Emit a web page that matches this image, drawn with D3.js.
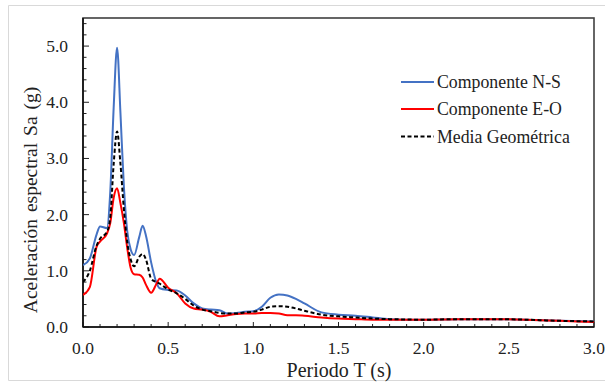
<!DOCTYPE html>
<html>
<head>
<meta charset="utf-8">
<script src="https://cdn.jsdelivr.net/npm/d3@7"></script>
<style>
  html, body { margin: 0; padding: 0; background: #fff; }
  svg { display: block; }
  svg text { font-family: "Liberation Serif", "Times New Roman", serif; fill: #222; }
</style>
</head>
<body>
<svg id="chart" width="605" height="383"></svg>
<script>
// ---- data ----
const periods = [0, 0.04, 0.08, 0.1, 0.14, 0.16, 0.18, 0.2, 0.22, 0.24, 0.26, 0.28, 0.3, 0.33, 0.35, 0.37, 0.4, 0.43, 0.45, 0.5, 0.55, 0.6, 0.65, 0.7, 0.75, 0.8, 0.85, 0.9, 0.95, 1.0, 1.05, 1.1, 1.15, 1.2, 1.25, 1.3, 1.4, 1.5, 1.6, 1.7, 1.8, 2.0, 2.2, 2.4, 2.6, 2.8, 3.0];
const saNS = [1.10, 1.22, 1.65, 1.79, 1.76, 2.4, 3.9, 4.97, 3.8, 2.5, 1.7, 1.38, 1.28, 1.6, 1.80, 1.62, 1.15, 0.80, 0.69, 0.66, 0.65, 0.56, 0.42, 0.33, 0.31, 0.30, 0.24, 0.25, 0.27, 0.28, 0.36, 0.52, 0.58, 0.56, 0.50, 0.42, 0.26, 0.22, 0.20, 0.17, 0.14, 0.13, 0.14, 0.14, 0.13, 0.11, 0.10];
const saEO = [0.57, 0.71, 1.43, 1.52, 1.66, 1.85, 2.3, 2.47, 2.2, 1.85, 1.4, 1.05, 0.94, 0.93, 0.88, 0.75, 0.61, 0.76, 0.86, 0.70, 0.60, 0.42, 0.33, 0.31, 0.27, 0.19, 0.21, 0.23, 0.24, 0.24, 0.25, 0.25, 0.24, 0.21, 0.21, 0.20, 0.17, 0.15, 0.14, 0.13, 0.13, 0.13, 0.14, 0.14, 0.13, 0.11, 0.09];
const saGeo = [0.80, 1.0, 1.45, 1.57, 1.69, 1.95, 2.9, 3.48, 2.9, 2.1, 1.5, 1.2, 1.08, 1.25, 1.30, 1.2, 0.86, 0.80, 0.77, 0.67, 0.60, 0.50, 0.38, 0.31, 0.28, 0.25, 0.24, 0.24, 0.26, 0.27, 0.31, 0.36, 0.37, 0.36, 0.33, 0.29, 0.22, 0.19, 0.17, 0.15, 0.14, 0.13, 0.14, 0.14, 0.13, 0.11, 0.10];
const seriesNames = ["Componente N-S", "Componente E-O", "Media Geométrica"];
const xTickLabels = ["0.0", "0.5", "1.0", "1.5", "2.0", "2.5", "3.0"];
const yTickLabels = ["0.0", "1.0", "2.0", "3.0", "4.0", "5.0"];

// ---- layout ----
const FONT = '"Liberation Serif", "Times New Roman", serif';
const svg = d3.select("#chart");
const L = 83, R = 594, T = 18, B = 327;
const x = d3.scaleLinear().domain([0, 3]).range([L, R]);
const y = d3.scaleLinear().domain([0, 5.5]).range([B, T]);

// outer light border
svg.append("path")
  .attr("d", `M605,5.5 H8.5 V380.5 H605`)
  .attr("fill", "none").attr("stroke", "#d9d9d9").attr("stroke-width", 1);

// frame
svg.append("rect").attr("x", L).attr("y", T).attr("width", R - L).attr("height", B - T)
  .attr("fill", "none").attr("stroke", "#404040").attr("stroke-width", 1.6);

// ticks (inward)
const gx = svg.append("g");
d3.range(0, 3.0001, 0.1).forEach((v, i) => {
  const major = i % 5 === 0;
  gx.append("line").attr("x1", x(v)).attr("x2", x(v)).attr("y1", B).attr("y2", B - (major ? 5 : 3))
    .attr("stroke", "#222").attr("stroke-width", 1);
});
xTickLabels.forEach(t => {
  gx.append("text").attr("x", x(+t)).attr("y", 354).attr("text-anchor", "middle")
    .attr("font-family", FONT).attr("font-size", 17.5).text(t);
});
const gy = svg.append("g");
d3.range(0, 5.5001, 0.2).forEach((v) => {
  const major = Math.abs(v - Math.round(v)) < 1e-6;
  gy.append("line").attr("x1", L).attr("x2", L + (major ? 6 : 3.5)).attr("y1", y(v)).attr("y2", y(v))
    .attr("stroke", "#222").attr("stroke-width", 1);
});
yTickLabels.forEach(t => {
  gy.append("text").attr("x", 68).attr("y", y(+t) + 6).attr("text-anchor", "end")
    .attr("font-family", FONT).attr("font-size", 17.5).text(t);
});

// axis lines (black)
svg.append("line").attr("x1", L).attr("x2", L).attr("y1", T).attr("y2", B).attr("stroke", "#111").attr("stroke-width", 1.6);
svg.append("line").attr("x1", L).attr("x2", R).attr("y1", B).attr("y2", B).attr("stroke", "#111").attr("stroke-width", 1.6);

// axis titles
svg.append("text").attr("x", 339).attr("y", 377).attr("text-anchor", "middle")
  .attr("font-family", FONT).attr("font-size", 20).text("Periodo T (s)");
svg.append("text").attr("transform", "translate(37,200) rotate(-90)").attr("text-anchor", "middle")
  .attr("font-family", FONT).attr("font-size", 19.5).attr("word-spacing", 2).text("Aceleración espectral Sa (g)");

// lines
const line = d3.line().x(d => x(d[0])).y(d => y(d[1])).curve(d3.curveMonotoneX);
const series = [
  { name: seriesNames[0], vals: saNS, color: "#4472C4", dash: null },
  { name: seriesNames[1], vals: saEO, color: "#FF0000", dash: null },
  { name: seriesNames[2], vals: saGeo, color: "#000000", dash: "4,2.5" }
];
svg.append("clipPath").attr("id", "c").append("rect")
  .attr("x", L).attr("y", T).attr("width", R - L).attr("height", B - T);
series.forEach(s => {
  svg.append("path").datum(periods.map((p, i) => [p, s.vals[i]]))
    .attr("clip-path", "url(#c)")
    .attr("d", line).attr("fill", "none").attr("stroke", s.color)
    .attr("stroke-width", 2).attr("stroke-dasharray", s.dash);
});

// legend
const legY = [82, 109, 136.5];
series.forEach((s, i) => {
  svg.append("line").attr("x1", 401).attr("x2", 434).attr("y1", legY[i]).attr("y2", legY[i])
    .attr("stroke", s.color).attr("stroke-width", 2).attr("stroke-dasharray", s.dash);
  svg.append("text").attr("x", 437).attr("y", legY[i] + 6)
    .attr("font-family", FONT).attr("font-size", 17.8).text(s.name);
});
</script>
</body>
</html>
